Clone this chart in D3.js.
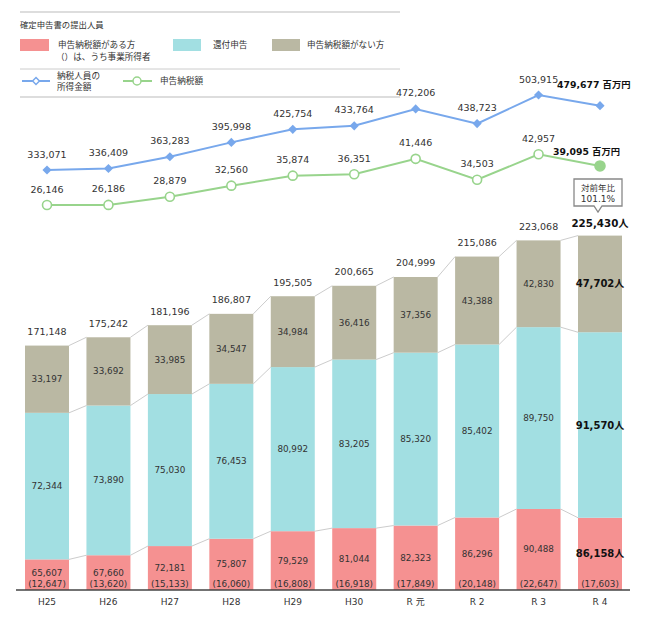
<!DOCTYPE html>
<html><head><meta charset="utf-8">
<script src="https://cdn.jsdelivr.net/npm/d3@7/dist/d3.min.js"></script>
<style>body{margin:0;background:#fff}svg{display:block;font-family:"DejaVu Sans","Noto Sans CJK JP",sans-serif}</style>
</head><body><svg id="c" width="659" height="627"></svg>
<script>
const categories = ["H25","H26","H27","H28","H29","H30","R 元","R 2","R 3","R 4"];
const taxPayers = [65607,67660,72181,75807,79529,81044,82323,86296,90488,86158];
const businessIncome = [12647,13620,15133,16060,16808,16918,17849,20148,22647,17603];
const refunds = [72344,73890,75030,76453,80992,83205,85320,85402,89750,91570];
const noTax = [33197,33692,33985,34547,34984,36416,37356,43388,42830,47702];
const totals = [171148,175242,181196,186807,195505,200665,204999,215086,223068,225430];
const incomeAmount = [333071,336409,363283,395998,425754,433764,472206,438723,503915,479677];
const taxAmount = [26146,26186,28879,32560,35874,36351,41446,34503,42957,39095];

const svg = d3.select("#c");
const fmt = d3.format(",");
const cRed="#F59191", cTeal="#A2DFE2", cGrey="#BAB8A3", cBlue="#78A8EC", cGreen="#98D48C";

// legend
svg.append("line").attr("x1",20).attr("x2",400).attr("y1",12).attr("y2",12).attr("stroke","#bbb");
svg.append("line").attr("x1",20).attr("x2",400).attr("y1",69).attr("y2",69).attr("stroke","#ccc");
svg.append("line").attr("x1",20).attr("x2",400).attr("y1",97).attr("y2",97).attr("stroke","#bbb");
const lt = (x,y,t,o={})=>svg.append("text").attr("x",x).attr("y",y).attr("font-size",o.fs||9).attr("fill",o.fill||"#333")
  .attr("font-weight",o.fw||"normal").attr("text-anchor",o.anchor||"start").attr("dominant-baseline","central").text(t);
lt(20,25,"確定申告書の提出人員",{fs:8.4});
svg.append("rect").attr("x",20).attr("y",39).attr("width",29).attr("height",12).attr("fill",cRed);
lt(58,45,"申告納税額がある方",{fs:8.6}); lt(56,57,"（）は、うち事業所得者",{fs:8.6});
svg.append("rect").attr("x",173).attr("y",39).attr("width",28).attr("height",12).attr("fill",cTeal);
lt(213,45,"還付申告",{fs:8.6});
svg.append("rect").attr("x",272).attr("y",39).attr("width",28).attr("height",12).attr("fill",cGrey);
lt(307,45,"申告納税額がない方",{fs:8.6});
svg.append("line").attr("x1",22).attr("x2",50).attr("y1",81).attr("y2",81).attr("stroke",cBlue).attr("stroke-width",2);
svg.append("path").attr("d",d3.symbol(d3.symbolDiamond2,30)()).attr("transform","translate(36,81)").attr("fill","#fff").attr("stroke",cBlue).attr("stroke-width",1.5);
lt(57,76,"納税人員の",{fs:8.6}); lt(57,87,"所得金額",{fs:8.6});
svg.append("line").attr("x1",123).attr("x2",152).attr("y1",81).attr("y2",81).attr("stroke",cGreen).attr("stroke-width",2);
svg.append("circle").attr("cx",137).attr("cy",81).attr("r",4).attr("fill","#fff").attr("stroke",cGreen).attr("stroke-width",1.5);
lt(160,81,"申告納税額",{fs:8.6});

// scales
const x = d3.scalePoint().domain(categories).range([47,600]);
const bw = 44;
const y = d3.scaleLinear().domain([50500,225430]).range([590,235.6]);
const yB = d3.scaleLinear().domain([333071,503915]).range([170,95]);
const yG = d3.scaleLinear().domain([26146,42957]).range([205,154.3]);

// stacked data
const rows = categories.map((c,i)=>({c,i,red:taxPayers[i],teal:refunds[i],grey:noTax[i]}));
const stack = d3.stack().keys(["red","teal","grey"])(rows);
const colors = {red:cRed,teal:cTeal,grey:cGrey};
const bottom = y.domain()[0];

// connectors
stack.forEach(layer=>{
  for(let i=0;i<layer.length-1;i++){
    svg.append("line").attr("x1",x(categories[i])+bw/2).attr("x2",x(categories[i+1])-bw/2)
      .attr("y1",y(layer[i][1])).attr("y2",y(layer[i+1][1])).attr("stroke","#ccc").attr("stroke-width",1);
  }
});
stack.forEach(layer=>{
  svg.append("g").selectAll("rect").data(layer).join("rect")
    .attr("x",d=>x(d.data.c)-bw/2).attr("width",bw)
    .attr("y",d=>y(d[1])).attr("height",d=>y(d[0]===0?bottom:d[0])-y(d[1]))
    .attr("fill",colors[layer.key]);
});
// segment labels
stack.forEach(layer=>{
  layer.forEach((d,i)=>{
    const y0 = y(d[0]===0?bottom:d[0]), y1=y(d[1]);
    const last = i===categories.length-1;
    const v = d.data[layer.key];
    let cy=(y0+y1)/2;
    if(layer.key==="red" && !last) cy=Math.min(cy,573);
    lt(x(d.data.c), cy, last?fmt(v)+"人":fmt(v), {anchor:"middle",fs:last?10:8.8,fw:last?"bold":"normal",fill:last?"#111":"#333"});
  });
});
categories.forEach((c,i)=>{
  lt(x(c),584,"("+fmt(businessIncome[i])+")",{anchor:"middle",fs:8.8});
  if(i<categories.length-1) lt(x(c),y(totals[i])-14,fmt(totals[i]),{anchor:"middle",fs:9.5});
  else lt(x(c),y(totals[i])-13,fmt(totals[i])+"人",{anchor:"middle",fs:10.3,fw:"bold",fill:"#111"});
  lt(x(c),602,c,{anchor:"middle",fs:9});
});
// axis
svg.append("line").attr("x1",16).attr("x2",630).attr("y1",590).attr("y2",590).attr("stroke","#444").attr("stroke-width",1.5);

// callout
const cx = x(categories[9]);
svg.append("path").attr("d",`M${cx-26},179 H${cx+22} V206 H${cx+2} L${cx-2},212 L${cx-6},206 H${cx-26} Z`)
  .attr("fill","#fff").attr("stroke","#888").attr("stroke-width",1.3);
lt(cx-2,188,"対前年比",{anchor:"middle",fs:8.5});
lt(cx-2,199,"101.1%",{anchor:"middle",fs:9});

// lines
svg.append("path").datum(incomeAmount).attr("fill","none").attr("stroke",cBlue).attr("stroke-width",2)
  .attr("d",d3.line().x((d,i)=>x(categories[i])).y(d=>yB(d)));
svg.append("path").datum(taxAmount).attr("fill","none").attr("stroke",cGreen).attr("stroke-width",2)
  .attr("d",d3.line().x((d,i)=>x(categories[i])).y(d=>yG(d)));
incomeAmount.forEach((v,i)=>{
  svg.append("path").attr("d",d3.symbol(d3.symbolSquare,42)()).attr("transform",`translate(${x(categories[i])},${yB(v)}) rotate(45)`).attr("fill",cBlue);
  if(i<9) lt(x(categories[i]),yB(v)-16,fmt(v),{anchor:"middle",fs:9.5});
});
taxAmount.forEach((v,i)=>{
  const last=i===9;
  svg.append("circle").attr("cx",x(categories[i])).attr("cy",yG(v)).attr("r",last?5:4.5)
    .attr("fill",last?cGreen:"#fff").attr("stroke",cGreen).attr("stroke-width",1.6);
  if(!last) lt(x(categories[i]),yG(v)-16,fmt(v),{anchor:"middle",fs:9.5});
});
lt(557,84,fmt(incomeAmount[9])+" 百万円",{fs:9.3,fw:"bold",fill:"#111"});
lt(553,151,fmt(taxAmount[9])+" 百万円",{fs:9.3,fw:"bold",fill:"#111"});
</script></body></html>
